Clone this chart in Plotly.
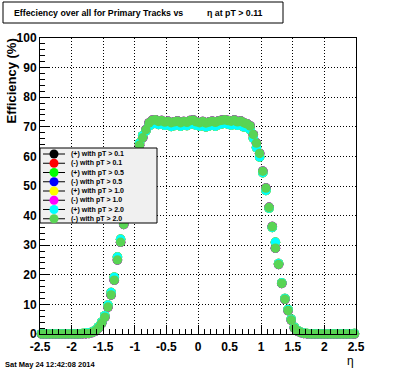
import plotly.graph_objects as go

# ---------------- data ----------------
eta = [-2.475, -2.425, -2.375, -2.325, -2.275, -2.225, -2.175, -2.125, -2.075, -2.025,
       -1.975, -1.925, -1.875, -1.825, -1.775, -1.725, -1.675, -1.625, -1.575, -1.525,
       -1.475, -1.425, -1.375, -1.325, -1.275, -1.225, -1.175, -1.125, -1.075, -1.025,
       -0.975, -0.925, -0.875, -0.825, -0.775, -0.725, -0.675, -0.625, -0.575, -0.525,
       -0.475, -0.425, -0.375, -0.325, -0.275, -0.225, -0.175, -0.125, -0.075, -0.025,
       0.025, 0.075, 0.125, 0.175, 0.225, 0.275, 0.325, 0.375, 0.425, 0.475,
       0.525, 0.575, 0.625, 0.675, 0.725, 0.775, 0.825, 0.875, 0.925, 0.975,
       1.025, 1.075, 1.125, 1.175, 1.225, 1.275, 1.325, 1.375, 1.425, 1.475,
       1.525, 1.575, 1.625, 1.675, 1.725, 1.775, 1.825, 1.875, 1.925, 1.975,
       2.025, 2.075, 2.125, 2.175, 2.225, 2.275, 2.325, 2.375, 2.425, 2.475]

# efficiency (%) for positive tracks (drawn underneath)
eff_plus = [0.1, 0.1, 0.1, 0.1, 0.1, 0.1, 0.1, 0.1, 0.1, 0.1,
            0.1, 0.1, 0.1, 0.2, 0.3, 0.4, 0.7, 1.3, 2.4, 4.0,
            6.2, 9.8, 14.0, 19.2, 26.0, 32.0, 38.0, 44.0, 50.0, 55.5,
            60.5, 64.5, 67.0, 68.6, 70.3, 71.0, 71.2, 70.8, 71.0, 70.5,
            70.8, 70.1, 70.4, 70.9, 70.2, 70.7, 70.4, 70.9, 71.1, 70.5,
            70.2, 70.6, 70.0, 70.3, 70.8, 70.2, 70.7, 71.0, 71.2, 70.9,
            70.6, 71.0, 70.5, 70.8, 70.0, 69.8, 69.0, 66.2, 63.0, 59.8,
            54.5, 48.5, 42.5, 36.0, 31.0, 23.8, 17.3, 12.0, 8.3, 5.0,
            2.3, 1.2, 0.6, 0.3, 0.2, 0.1, 0.1, 0.1, 0.1, 0.1,
            0.1, 0.1, 0.1, 0.1, 0.1, 0.1, 0.1, 0.1, 0.1, 0.2]

# efficiency (%) for negative tracks (drawn on top)
eff_minus = [0.0, 0.0, 0.0, 0.0, 0.0, 0.0, 0.0, 0.0, 0.0, 0.0,
             0.0, 0.0, 0.0, 0.1, 0.1, 0.2, 0.5, 1.0, 2.0, 3.6,
             5.7, 9.1, 13.2, 18.2, 25.0, 31.0, 37.0, 43.0, 49.0, 54.5,
             59.5, 63.8, 66.3, 69.0, 71.3, 72.2, 72.4, 71.8, 72.1, 71.6,
             71.9, 71.4, 71.7, 72.0, 71.4, 71.8, 71.5, 72.1, 72.3, 71.7,
             71.4, 71.8, 71.3, 71.6, 71.9, 71.5, 72.0, 72.2, 72.4, 72.1,
             71.9, 72.3, 71.7, 72.0, 71.4, 71.0, 70.3, 67.4, 64.5, 61.0,
             55.0, 49.3, 42.8, 36.3, 29.0, 23.5, 17.1, 11.7, 7.9, 4.7,
             2.0, 1.0, 0.5, 0.2, 0.1, 0.0, 0.0, 0.0, 0.0, 0.0,
             0.0, 0.0, 0.0, 0.0, 0.0, 0.0, 0.0, 0.0, 0.0, 0.0]

series_labels = ["(+) with pT > 0.1", "(-) with pT > 0.1",
                 "(+) with pT > 0.5", "(-) with pT > 0.5",
                 "(+) with pT > 1.0", "(-) with pT > 1.0",
                 "(+) with pT > 2.0", "(-) with pT > 2.0"]
series_colors = ["#000000", "#ff0000", "#00ff00", "#0000ff",
                 "#ffff00", "#ff00ff", "#00ffff", "#59d454"]

x_tickvals = [-2.5, -2, -1.5, -1, -0.5, 0, 0.5, 1, 1.5, 2, 2.5]
x_ticktext = ["-2.5", "-2", "-1.5", "-1", "-0.5", "0", "0.5", "1", "1.5", "2", "2.5"]
y_tickvals = [0, 10, 20, 30, 40, 50, 60, 70, 80, 90, 100]
y_ticktext = ["0", "10", "20", "30", "40", "50", "60", "70", "80", "90", "100"]

title_left = "Effeciency over all for Primary Tracks vs"
title_right = "η at pT > 0.11"
y_title = "Efficiency (%)"
x_title = "η"
date_text = "Sat May 24 12:42:08 2014"

# ---------------- figure ----------------
W, H = 396, 372
L, R, T, B = 40, 40, 38, 38
PW, PH = W - L - R, H - T - B
FONT = "Liberation Sans, Arial, Helvetica, sans-serif"


def fx(px):
    return (px - L) / PW


def fy(py):
    return (H - B - py) / PH


fig = go.Figure()
for i, (lab, col) in enumerate(zip(series_labels, series_colors)):
    vals = eff_plus if i % 2 == 0 else eff_minus
    fig.add_trace(go.Scatter(
        x=eta, y=vals, mode="markers", name=lab, showlegend=False,
        cliponaxis=False,
        marker=dict(symbol="circle", size=9.5, color=col, line=dict(width=0)),
    ))

shapes = []
annotations = []

# title box
shapes.append(dict(type="rect", xref="paper", yref="paper",
                   x0=fx(3), x1=fx(283), y0=fy(23), y1=fy(2),
                   line=dict(color="black", width=1), fillcolor="white", layer="above"))
annotations.append(dict(xref="paper", yref="paper", x=fx(12), y=fy(13),
                        xanchor="left", yanchor="middle", showarrow=False,
                        text="<b>" + title_left + "</b>",
                        font=dict(family=FONT, size=8.8, color="black")))
annotations.append(dict(xref="paper", yref="paper", x=fx(205), y=fy(13),
                        xanchor="left", yanchor="middle", showarrow=False,
                        text="<b>" + title_right + "</b>",
                        font=dict(family=FONT, size=8.8, color="black")))

# legend box (manual, ROOT style)
shapes.append(dict(type="rect", xref="paper", yref="paper",
                   x0=fx(40), x1=fx(157), y0=fy(223), y1=fy(148),
                   line=dict(color="black", width=1), fillcolor="#f0f0f0", layer="above"))
for k, (lab, col) in enumerate(zip(series_labels, series_colors)):
    ry = 154 + 9.25 * k
    shapes.append(dict(type="line", xref="paper", yref="paper",
                       x0=fx(43), x1=fx(65), y0=fy(ry), y1=fy(ry),
                       line=dict(color="black", width=1), layer="above"))
    r = 4.5
    shapes.append(dict(type="circle", xref="paper", yref="paper",
                       x0=fx(54 - r), x1=fx(54 + r), y0=fy(ry + r), y1=fy(ry - r),
                       line=dict(width=0), fillcolor=col, layer="above"))
    annotations.append(dict(xref="paper", yref="paper", x=fx(69), y=fy(ry),
                            xanchor="left", yanchor="middle", showarrow=False,
                            text="<b>" + lab + "</b>",
                            font=dict(family=FONT, size=7, color="black")))

# axis titles and date
annotations.append(dict(xref="paper", yref="paper", x=fx(11), y=fy(37),
                        xanchor="center", yanchor="top", showarrow=False, textangle=-90,
                        text="<b>" + y_title + "</b>",
                        font=dict(family=FONT, size=13, color="black")))
annotations.append(dict(xref="paper", yref="paper", x=fx(350), y=fy(361),
                        xanchor="center", yanchor="middle", showarrow=False,
                        text=x_title, font=dict(family=FONT, size=12, color="black")))
annotations.append(dict(xref="paper", yref="paper", x=fx(3), y=fy(364),
                        xanchor="left", yanchor="middle", showarrow=False,
                        text="<b>" + date_text + "</b>",
                        font=dict(family=FONT, size=7.5, color="black")))

axis_common = dict(
    showline=True, linecolor="black", linewidth=1, mirror=True,
    ticks="inside", ticklen=9, tickcolor="black", tickwidth=1,
    showgrid=True, gridcolor="black", gridwidth=1, griddash="1px,2px",
    zeroline=False,
    tickfont=dict(family=FONT, size=12, color="black", weight="bold"),
)

fig.update_layout(
    width=W, height=H,
    margin=dict(l=L, r=R, t=T, b=B, pad=0),
    paper_bgcolor="white", plot_bgcolor="white",
    showlegend=False,
    shapes=shapes, annotations=annotations,
    xaxis=dict(range=[-2.5, 2.5], tickmode="array", tickvals=x_tickvals, ticktext=x_ticktext,
               ticklabelstandoff=2,
               minor=dict(dtick=0.1, ticks="inside", ticklen=5, tickcolor="black", showgrid=False),
               **axis_common),
    yaxis=dict(range=[0, 100], tickmode="array", tickvals=y_tickvals, ticktext=y_ticktext,
               minor=dict(dtick=2, ticks="inside", ticklen=5, tickcolor="black", showgrid=False),
               **axis_common),
)

fig.write_html("out.html", config={"displayModeBar": False},
               post_script="document.body.style.margin='0';")
